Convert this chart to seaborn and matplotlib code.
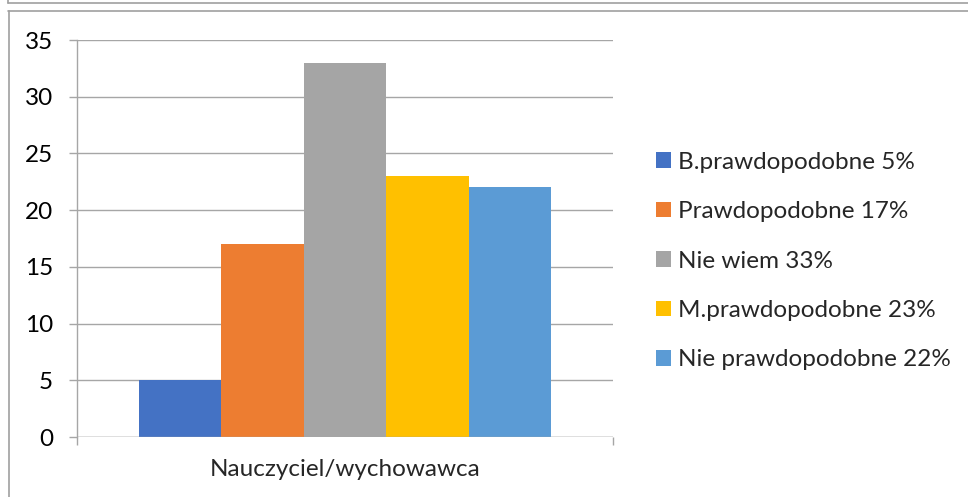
import matplotlib
matplotlib.use("Agg")
import matplotlib.pyplot as plt
from matplotlib.lines import Line2D
from matplotlib.patches import Patch
import seaborn as sns
import pandas as pd

category = ["Nauczyciel/wychowawca"]
answers = ["B.prawdopodobne 5%", "Prawdopodobne 17%", "Nie wiem 33%",
           "M.prawdopodobne 23%", "Nie prawdopodobne 22%"]
values = [5, 17, 33, 23, 22]
colors = ["#4472C4", "#ED7D31", "#A5A5A5", "#FFC000", "#5B9BD5"]
yticks = [0, 5, 10, 15, 20, 25, 30, 35]

df = pd.DataFrame({"cat": category * len(answers), "answer": answers, "value": values})

sns.set_theme(style="white")
plt.rcParams['font.family'] = ['Lato', 'DejaVu Sans']

W, H = 968, 497
fig = plt.figure(figsize=(W / 100, H / 100), dpi=100)
ax = fig.add_axes([77 / W, 1 - 437 / H, (613 - 77) / W, (437 - 40) / H])

sns.barplot(data=df, x="cat", y="value", hue="answer", hue_order=answers,
            palette=colors, width=0.77, gap=0, saturation=1, ax=ax,
            legend=False, errorbar=None, linewidth=0)

ax.set_xlim(-0.5, 0.5)
ax.set_ylim(0, 35)
ax.set_yticks(yticks)
ax.yaxis.grid(True, color="#A6A6A6", linewidth=1)
ax.set_axisbelow(True)
ax.set_xlabel("")
ax.set_ylabel("")
for s in ["top", "right", "bottom"]:
    ax.spines[s].set_visible(False)
ax.spines["left"].set_color("#A6A6A6")
ax.spines["left"].set_linewidth(1)
ax.axhline(0, color="#A6A6A6", linewidth=1, zorder=3)

fs = 17.5
ax.tick_params(axis="y", which="major", length=5.8, width=1, color="#A6A6A6",
               labelsize=fs, labelcolor="#000000", pad=11.5, left=True)
ax.set_xticks([0])
ax.set_xticklabels(category)
ax.tick_params(axis="x", which="major", length=0, labelsize=fs, pad=16)
ax.set_xticks([-0.5, 0.5], minor=True)
ax.tick_params(axis="x", which="minor", length=5.8, width=1, color="#A6A6A6", bottom=True)

handles = [Patch(facecolor=c, edgecolor="none") for c in colors]
fig.legend(handles, answers, loc="center left", bbox_to_anchor=(646 / W, 1 - 261 / H),
           frameon=False, fontsize=fs, handlelength=0.62, handleheight=0.62,
           handletextpad=0.3, labelspacing=1.17, borderaxespad=0)

def px_line(x0, y0, x1, y1):
    fig.add_artist(Line2D([x0 / W, x1 / W], [1 - y0 / H, 1 - y1 / H],
                          transform=fig.transFigure, color="#A0A0A0", linewidth=1.2))

px_line(8, 2.5, W, 2.5)
px_line(8, 0, 8, 2.5)
px_line(8, 10.5, W, 10.5)
px_line(8.5, 10.5, 8.5, H)

fig.savefig("out.png", dpi=100)
